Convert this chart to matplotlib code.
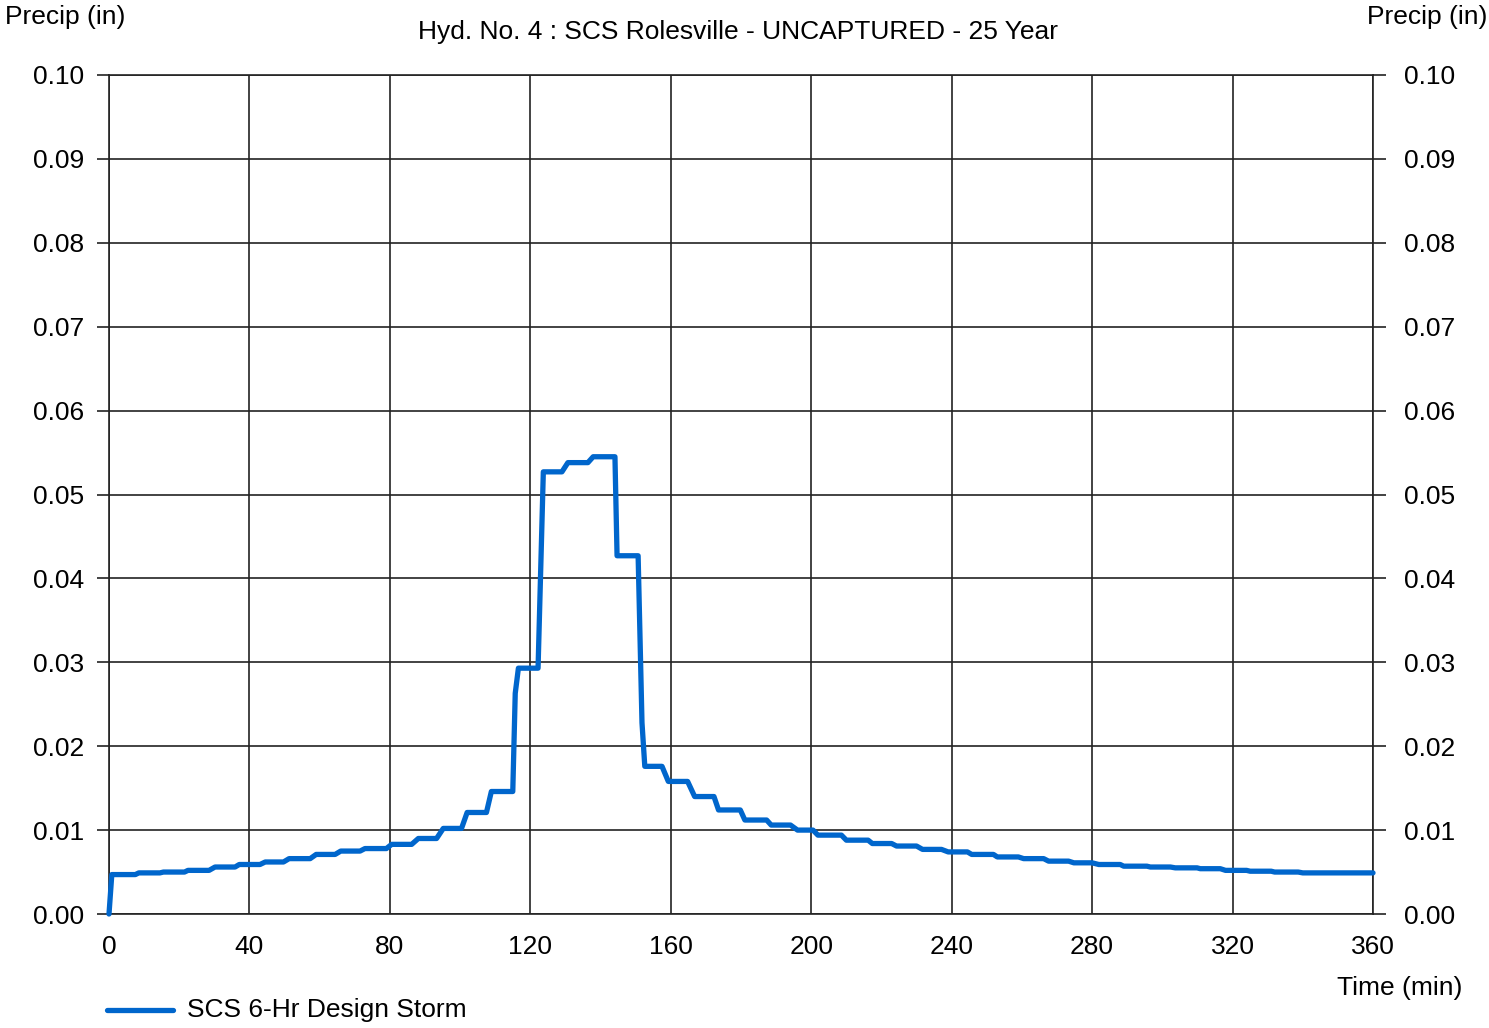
import matplotlib
matplotlib.use("Agg")
import matplotlib.pyplot as plt
from matplotlib.lines import Line2D

plt.rcParams['font.family'] = ['Liberation Sans', 'DejaVu Sans']

# hyetograph vertices (time in min, precip in in)
time_min = [0, 0.8, 7.5, 8.5, 14.5, 15.5, 21.5, 22.5, 28.5, 30.2, 35.9, 37.1, 43.0,
            44.5, 49.7, 51.3, 57.3, 59.0, 64.4, 66.0, 71.5, 72.9, 79.0, 80.5, 86.2,
            88.1, 93.3, 95.2, 100.4, 102.0, 107.5, 108.9, 115.0, 115.7, 116.6, 122.2,
            123.7, 129.0, 130.7, 136.4, 137.9, 144.1, 144.7, 150.7, 151.8, 152.6, 157.5,
            159.3, 164.8, 166.8, 172.3, 173.6, 179.8, 181.1, 187.3, 188.6, 194.1,
            196.1, 200.5, 201.9, 208.6, 210.0, 216.2, 217.4, 222.9, 224.3, 230.0,
            231.7, 237.1, 239.0, 244.5, 245.7, 251.9, 253.0, 259.0, 260.5, 266.2,
            267.6, 273.3, 274.8, 280.0, 281.9, 288.0, 289.0, 295.6, 296.6, 302.3,
            303.7, 309.9, 310.8, 316.5, 318.0, 324.0, 325.0, 331.0, 332.0, 338.7,
            340.0, 360.0]
precip_in = [0.0, 0.0047, 0.0047, 0.0049, 0.0049, 0.0050, 0.0050, 0.0052, 0.0052, 0.0056, 0.0056, 0.0059, 0.0059,
             0.0062, 0.0062, 0.0066, 0.0066, 0.0071, 0.0071, 0.0075, 0.0075, 0.0078, 0.0078, 0.0083, 0.0083,
             0.0090, 0.0090, 0.0102, 0.0102, 0.0121, 0.0121, 0.0146, 0.0146, 0.0263, 0.0293, 0.0293,
             0.0527, 0.0527, 0.0538, 0.0538, 0.0545, 0.0545, 0.0427, 0.0427, 0.0228, 0.0176, 0.0176,
             0.0158, 0.0158, 0.0140, 0.0140, 0.0124, 0.0124, 0.0112, 0.0112, 0.0106, 0.0106,
             0.0100, 0.0100, 0.0094, 0.0094, 0.0088, 0.0088, 0.0084, 0.0084, 0.0081, 0.0081,
             0.0077, 0.0077, 0.0074, 0.0074, 0.0071, 0.0071, 0.0068, 0.0068, 0.0066, 0.0066,
             0.0063, 0.0063, 0.0061, 0.0061, 0.0059, 0.0059, 0.0057, 0.0057, 0.0056, 0.0056,
             0.0055, 0.0055, 0.0054, 0.0054, 0.0052, 0.0052, 0.0051, 0.0051, 0.0050, 0.0050,
             0.0049, 0.0049]

x_ticks = [0, 40, 80, 120, 160, 200, 240, 280, 320, 360]
y_ticks = [0.00, 0.01, 0.02, 0.03, 0.04, 0.05, 0.06, 0.07, 0.08, 0.09, 0.10]

subtitle = "Hyd. No. 4 : SCS Rolesville - UNCAPTURED - 25 Year"
series_name = "SCS 6-Hr Design Storm"

W, H = 1489, 1028
FS = 19
LINE_COLOR = "#0066CC"
GRID_COLOR = "#222222"

fig = plt.figure(figsize=(W / 100, H / 100), dpi=100)
ax = fig.add_axes([109 / W, 1 - 914 / H, (1373 - 109) / W, (914 - 75) / H])

ax.plot(time_min, precip_in, color=LINE_COLOR, linewidth=3.8, solid_joinstyle="round",
        solid_capstyle="round", zorder=3, clip_on=False)

ax.set_xlim(0, 360)
ax.set_ylim(0, 0.10)
ax.set_xticks(x_ticks)
ax.set_yticks(y_ticks)
ax.set_yticklabels([f"{v:.2f}" for v in y_ticks])
ax.grid(True, color=GRID_COLOR, linewidth=1.2)
ax.set_axisbelow(True)
for s in ax.spines.values():
    s.set_color(GRID_COLOR)
    s.set_linewidth(1.2)

ax.tick_params(axis="y", left=True, right=False, direction="out", length=9, width=1.2,
               color=GRID_COLOR, labelsize=FS, pad=9)
ax.tick_params(axis="x", length=0, labelsize=FS, pad=15)

# same scale mirrored on the right side
ax_r = ax.twinx()
ax_r.set_ylim(ax.get_ylim())
ax_r.set_yticks(y_ticks)
ax_r.set_yticklabels([f"{v:.2f}" for v in y_ticks])
ax_r.tick_params(axis="y", direction="out", length=9, width=1.2, color=GRID_COLOR,
                 labelsize=FS, pad=13)
for s in ax_r.spines.values():
    s.set_visible(False)

# axis titles and subtitle placed as in the source
fig.text(5 / W, 1 - 17 / H, "Precip (in)", fontsize=FS, ha="left", va="center")
fig.text(1487 / W, 1 - 17 / H, "Precip (in)", fontsize=FS, ha="right", va="center")
fig.text(1462 / W, 1 - 988 / H, "Time (min)", fontsize=FS, ha="right", va="center")
fig.text(738 / W, 1 - 32 / H, subtitle, fontsize=FS, ha="center", va="center")

# legend entry at the bottom left
fig.add_artist(Line2D([107 / W, 173 / W], [1 - 1010 / H, 1 - 1010 / H], color=LINE_COLOR,
                      linewidth=3.8, solid_capstyle="round", transform=fig.transFigure))
fig.text(187 / W, 1 - 1010 / H, series_name, fontsize=FS, ha="left", va="center")

fig.savefig("out.png", dpi=100)
